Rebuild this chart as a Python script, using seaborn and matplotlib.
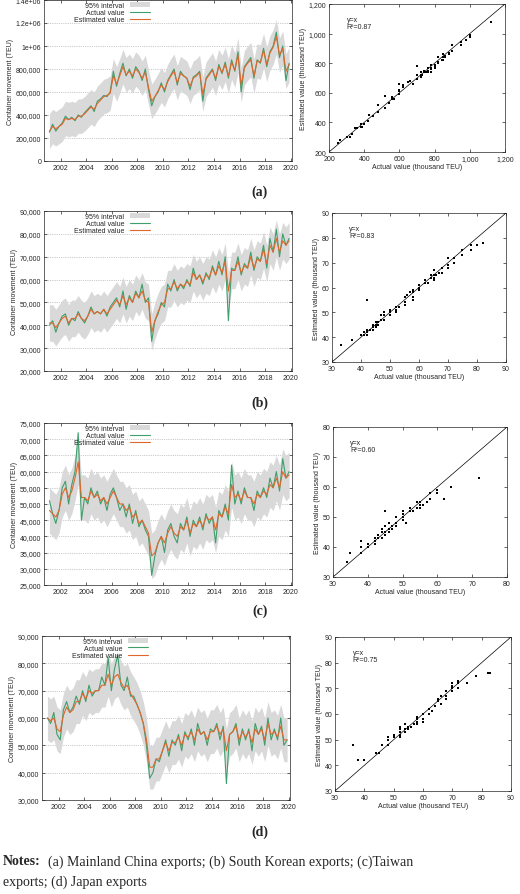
import numpy as np
import pandas as pd
import matplotlib
matplotlib.use("Agg")
import matplotlib.pyplot as plt
import matplotlib.ticker as mtick
import seaborn as sns

sns.set_style("ticks")
plt.rcParams['font.family'] = ['Liberation Sans', 'DejaVu Sans']

# quarterly values 2001Q1 .. 2019Q4, thousand TEU
quarters = np.arange(2001, 2020, 0.25) + 0.125

china_actual = [250,320,260,300, 330,390,360,380, 350,400,380,420, 450,480,430,520,
                540,570,560,600, 780,650,760,850, 740,800,720,820, 780,700,800,620,
                480,560,600,680, 600,700,750,800, 660,780,740,720, 620,730,750,780,
                520,720,760,800, 700,840,760,860, 720,880,780,950, 600,820,860,900,
                720,880,850,980, 820,950,1000,1120, 900,1000,700,850]
china_est = [260,300,280,300, 320,370,360,370, 360,390,390,410, 440,470,450,500,
             530,560,570,590, 740,670,740,820, 750,780,740,800, 770,720,770,640,
             520,560,610,660, 620,690,740,780, 680,760,740,720, 650,720,740,770,
             580,710,750,790, 720,820,770,840, 740,860,790,920, 660,810,850,880,
             740,870,860,960, 840,940,990,1080, 920,980,780,840]
korea_actual = [40,42,37,41, 44,45,40,43, 42,46,43,41, 44,48,45,46, 45,47,44,48,
                50,52,48,55, 47,53,50,55, 52,58,50,52, 33,42,45,50, 48,58,55,60,
                55,58,56,60, 57,65,60,62, 58,63,60,66, 62,68,62,70, 42,65,64,70,
                62,67,65,72, 64,70,68,75, 65,78,72,82, 70,80,75,78]
korea_est = [41,41,39,41, 43,44,41,43, 43,45,43,42, 44,47,45,46, 45,47,45,47,
             49,51,49,53, 49,52,50,54, 52,55,51,50, 37,42,46,49, 50,56,56,59,
             56,58,57,59, 58,63,60,62, 59,62,61,65, 62,66,63,68, 55,64,64,68,
             63,66,65,70, 65,69,68,73, 67,75,72,78, 72,77,75,77]
taiwan_actual = [51,47,44,48, 55,57,50,56, 60,72,45,52, 50,55,52,54, 50,52,48,53,
                 55,52,48,50, 46,50,44,48, 43,45,42,40, 28,34,38,40, 35,42,44,40,
                 38,44,42,46, 40,45,43,46, 42,47,44,46, 38,48,46,50, 45,62,50,54,
                 50,55,52,52, 48,54,52,55, 52,58,55,60, 54,64,58,60]
taiwan_est = [48,47,46,48, 53,55,52,54, 58,63,52,52, 51,54,52,53, 51,52,50,52,
              54,52,50,50, 48,49,46,47, 44,45,43,41, 34,35,38,40, 38,41,43,41,
              40,43,42,45, 41,44,43,45, 43,46,45,46, 42,47,46,49, 47,56,52,53,
              51,54,52,52, 50,53,52,54, 53,56,55,58, 55,60,58,59]
japan_actual = [60,58,62,54, 52,63,66,62, 64,68,65,70, 66,72,68,70, 70,75,72,82,
                70,78,83,72, 70,75,68,68, 65,62,58,50, 38,40,45,44, 48,52,46,52,
                50,54,48,55, 52,56,50,58, 54,55,50,56, 55,58,52,57, 36,54,55,58,
                50,56,52,56, 48,58,54,57, 50,60,52,56, 52,60,50,52]
japan_est = [60,59,60,56, 55,61,64,62, 63,66,66,69, 67,70,69,70, 70,72,72,76,
             72,75,76,73, 71,72,69,67, 65,62,58,52, 42,42,45,45, 48,51,48,51,
             51,53,50,54, 53,55,52,56, 54,55,52,55, 55,57,54,56, 48,54,55,57,
             52,55,53,55, 51,56,54,56, 52,58,54,55, 53,57,52,52]
# half width of 95% interval, thousand TEU
band_half = [150, 8, 7, 8]

r2_labels = ["0.87", "0.83", "0.60", "0.75"]
panel_labels = ["(a)", "(b)", "(c)", "(d)"]
ts_ylims = [(0, 1400), (20, 90), (25, 75), (30, 90)]
ts_ysteps = [200, 10, 5, 10]
sc_lims = [(200, 1200), (30, 90), (30, 80), (30, 90)]
sc_steps = [200, 10, 10, 10]

series = [(china_actual, china_est), (korea_actual, korea_est),
          (taiwan_actual, taiwan_est), (japan_actual, japan_est)]

# pixel boxes: left, top, right, bottom
ts_boxes = [(44, 1, 292, 162), (44, 212, 292, 372), (44, 424, 292, 586), (42, 637, 290, 801)]
sc_boxes = [(329, 5, 505, 153), (332, 214, 506, 363), (333, 428, 507, 578), (335, 638, 511, 792)]
cap_y = [192, 403, 611, 832]

W, H = 520, 895
fig = plt.figure(figsize=(W / 100, H / 100), dpi=100)

def box(b):
    l, t, r, bt = b
    return [l / W, 1 - bt / H, (r - l) / W, (bt - t) / H]

green = "#3e9e6c"
orange = "#e0672c"
fs = 5

def fmt_big(v, pos):
    v = v * 1000
    if v >= 1e6:
        return ("%.1fe+06" % (v / 1e6)).replace(".0e", "e")
    return "{:,.0f}".format(v)

for i, (act, est) in enumerate(series):
    df = pd.DataFrame({"t": quarters, "actual": np.array(act, float), "est": np.array(est, float)})
    ax = fig.add_axes(box(ts_boxes[i]))
    ax.fill_between(df["t"], df["est"] - band_half[i], df["est"] + band_half[i],
                    color="#d9d9d9", lw=0, label="95% interval")
    sns.lineplot(data=df, x="t", y="actual", ax=ax, color=green, lw=0.8, label="Actual value")
    sns.lineplot(data=df, x="t", y="est", ax=ax, color=orange, lw=0.8, label="Estimated value")
    ax.set_xlim(2000.7, 2020.1)
    ax.set_ylim(*ts_ylims[i])
    ax.set_xticks(range(2002, 2021, 2))
    ax.set_yticks(np.arange(ts_ylims[i][0], ts_ylims[i][1] + 0.1, ts_ysteps[i]))
    ax.yaxis.set_major_formatter(mtick.FuncFormatter(fmt_big))
    ax.yaxis.grid(True, ls=":", color="#999999", lw=0.5)
    ax.tick_params(labelsize=fs, length=2, width=0.5, direction="in", top=True, right=True, pad=2)
    ax.set_xlabel("")
    ax.set_ylabel("Container movement (TEU)", fontsize=fs, labelpad=1)
    for s in ax.spines.values():
        s.set_linewidth(0.5)
    ax.legend(loc="upper left", bbox_to_anchor=(0.1, 1.02), fontsize=fs, frameon=False,
              markerfirst=False, handlelength=3, labelspacing=0.05, borderpad=0.2)

    sx = fig.add_axes(box(sc_boxes[i]))
    lo, hi = sc_lims[i]
    sx.plot([lo, hi], [lo, hi], color="black", lw=0.5)
    sns.scatterplot(data=df, x="actual", y="est", ax=sx, color="black", marker="s", s=4, linewidth=0)
    sx.set_xlim(lo, hi)
    sx.set_ylim(lo, hi)
    sx.set_xticks(np.arange(lo, hi + 0.1, sc_steps[i]))
    sx.set_yticks(np.arange(lo, hi + 0.1, sc_steps[i]))
    sx.xaxis.set_major_formatter(mtick.StrMethodFormatter("{x:,.0f}"))
    sx.yaxis.set_major_formatter(mtick.StrMethodFormatter("{x:,.0f}"))
    sx.tick_params(labelsize=fs, length=2, width=0.5, direction="in", top=True, right=True, pad=2)
    sx.set_xlabel("Actual value (thousand TEU)", fontsize=fs, labelpad=1)
    sx.set_ylabel("Estimated value (thousand TEU)", fontsize=fs, labelpad=1)
    for s in sx.spines.values():
        s.set_linewidth(0.5)
    sx.text(0.1, 0.92, "y=x\nR\u00b2=" + r2_labels[i], transform=sx.transAxes,
            fontsize=fs, va="top", linespacing=1.0)

    fig.text(0.5, 1 - cap_y[i] / H, panel_labels[i], ha="center", va="center",
             fontsize=10, fontweight="bold", family="Liberation Serif")

fig.text(0.005, 1 - 862 / H, "Notes:", fontsize=10, fontweight="bold",
         family="Liberation Serif", va="center")
fig.text(0.092, 1 - 862 / H, "(a) Mainland China exports; (b) South Korean exports; (c)Taiwan",
         fontsize=10, family="Liberation Serif", va="center")
fig.text(0.005, 1 - 882 / H, "exports; (d) Japan exports", fontsize=10,
         family="Liberation Serif", va="center")

fig.savefig("out.png", dpi=100)
